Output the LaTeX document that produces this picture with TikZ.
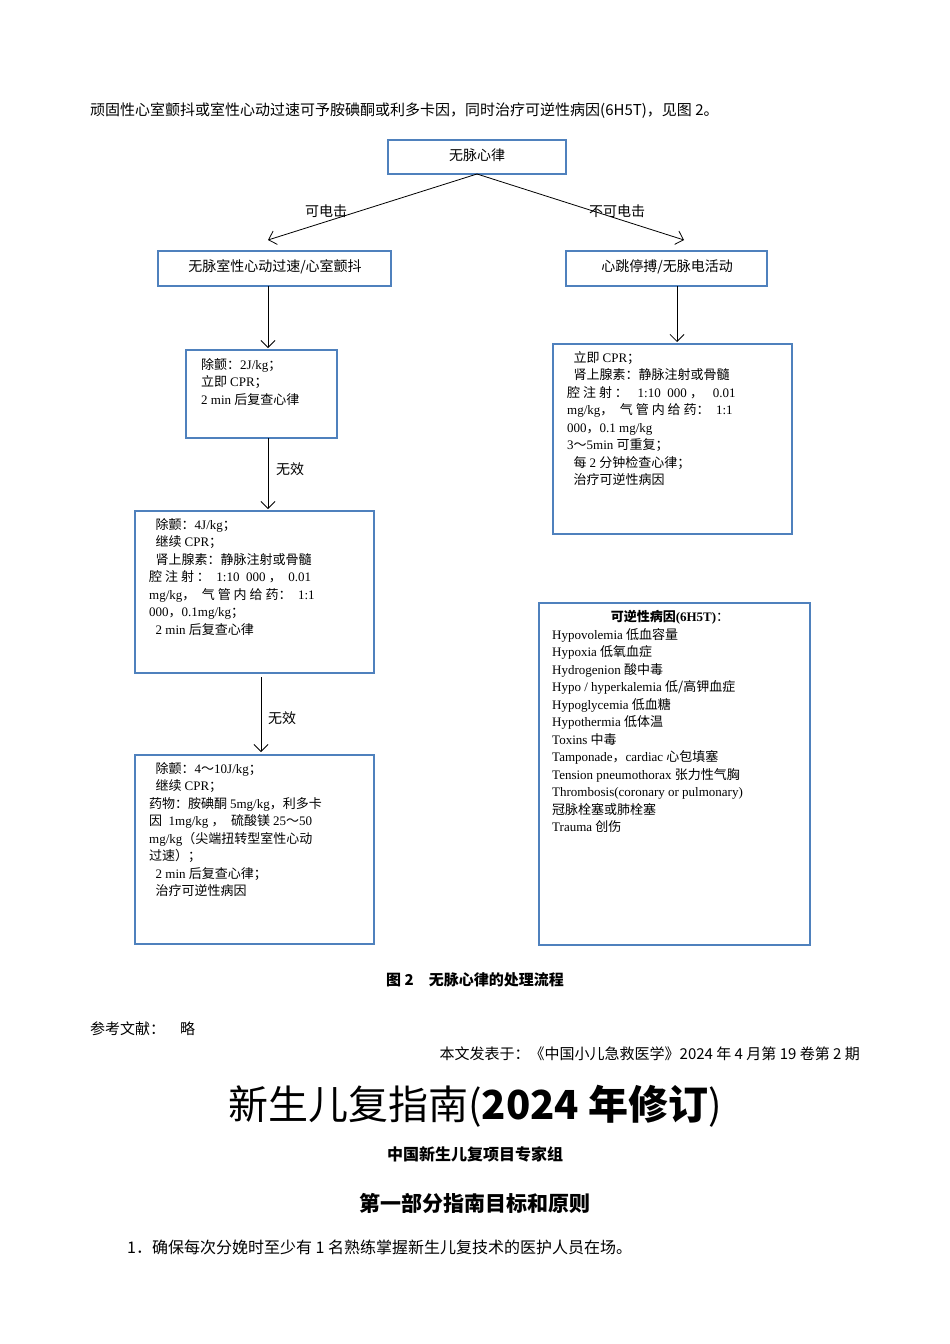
\documentclass[tikz,border=0pt]{standalone}
\usetikzlibrary{arrows.meta}
\usepackage{fontspec}
\setmainfont{Liberation Serif}
\newfontfamily\cjk{Noto Sans CJK SC}
\newcommand\zh[1]{{\cjk #1}}
\definecolor{bl}{HTML}{4F81BD}
\begin{document}
\begin{tikzpicture}[x=1pt,y=-1pt,
 bx/.style={draw=bl,line width=2.6pt},
 arr/.style={-{Straight Barb[length=7pt,width=14pt]},line width=0.8pt},
 tx/.style={font=\fontsize{13}{17.5}\selectfont,align=left,anchor=north west,inner sep=0pt},
 lab/.style={font=\cjk\fontsize{14}{16}\selectfont,inner sep=0pt}]
\useasboundingbox (0,0) rectangle (950,1344);
\node[anchor=west,inner sep=0pt,font=\cjk\fontsize{15}{18}\selectfont] (top) at (90,111) {顽固性心室颤抖或室性心动过速可予胺碘酮或利多卡因，同时治疗可逆性病因(6H5T)，见图 2。};
\draw[bx] (388,140) rectangle (566,174); \node[lab] (a) at (477,155) {无脉心律};
\coordinate (as) at (477,174);
\draw[bx] (158,251) rectangle (391,286); \node[lab] (b) at (275,267) {无脉室性心动过速/心室颤抖};
\draw[bx] (566,251) rectangle (767,286); \node[lab] (c) at (667,267) {心跳停搏/无脉电活动};
\coordinate (bt) at (268,240); \coordinate (ct) at (684,240);
\draw[arr] (as) -- (bt); \draw[arr] (as) -- (ct);
\node[lab] (l1) at (326,211) {可电击};
\node[lab] (l2) at (617,211) {不可电击};
\draw[bx] (186,350) rectangle (337,438);
\node[tx] (d) at (201,358) {\zh{除颤：}2J/kg\zh{；}\\\zh{立即 }CPR\zh{；}\\2 min \zh{后复查心律}};
\draw[arr] (268,286) -- (268,348);
\draw[arr] (268,438) -- (268,509); \node[lab] (w1) at (290,469) {无效};
\draw[bx] (135,511) rectangle (374,673);
\node[tx] (e) at (149,518) {\ \ \zh{除颤：}4J/kg\zh{；}\\\ \ \zh{继续 }CPR\zh{；}\\\ \ \zh{肾上腺素：静脉注射或骨髓}\\\zh{腔 注 射 ：}\ \ 1:10\ \ 000\ \zh{，}\ \ 0.01\\mg/kg\zh{，}\ \ \zh{气 管 内 给 药：}\ \ 1:1\\000\zh{，}0.1mg/kg\zh{；}\\\ \ 2 min \zh{后复查心律}};
\draw[arr] (261,677) -- (261,752); \node[lab] (w2) at (282,718) {无效};
\draw[bx] (135,755) rectangle (374,944);
\node[tx] (f) at (149,762) {\ \ \zh{除颤：}4\zh{～}10J/kg\zh{；}\\\ \ \zh{继续 }CPR\zh{；}\\\zh{药物：胺碘酮 }5mg/kg\zh{，利多卡}\\\zh{因}\ \ 1mg/kg\ \zh{，}\ \ \zh{硫酸镁 }25\zh{～}50\\mg/kg\zh{（尖端扭转型室性心动}\\\zh{过速）；}\\\ \ 2 min \zh{后复查心律；}\\\ \ \zh{治疗可逆性病因}};
\draw[arr] (677,286) -- (677,342);
\draw[bx] (553,344) rectangle (792,534);
\node[tx] (g) at (567,351) {\ \ \zh{立即 }CPR\zh{；}\\\ \ \zh{肾上腺素：静脉注射或骨髓}\\\zh{腔 注 射 ：}\ \ \ 1:10\ \ 000\ \zh{，}\ \ \ 0.01\\mg/kg\zh{，}\ \ \zh{气 管 内 给 药：}\ \ 1:1\\000\zh{，}0.1 mg/kg\\3\zh{～}5min \zh{可重复；}\\\ \ \zh{每 }2 \zh{分钟检查心律；}\\\ \ \zh{治疗可逆性病因}};
\draw[bx] (539,603) rectangle (810,945);
\node[tx,anchor=north] (h0) at (670,610) {\zh{\bfseries 可逆性病因}\textbf{(6H5T)}\zh{：}};
\node[tx] (h) at (552,628) {Hypovolemia \zh{低血容量}\\Hypoxia \zh{低氧血症}\\Hydrogenion \zh{酸中毒}\\Hypo / hyperkalemia \zh{低/高钾血症}\\Hypoglycemia \zh{低血糖}\\Hypothermia \zh{低体温}\\Toxins \zh{中毒}\\Tamponade\zh{，}cardiac \zh{心包填塞}\\Tension pneumothorax \zh{张力性气胸}\\Thrombosis(coronary or pulmonary)\\\zh{冠脉栓塞或肺栓塞}\\Trauma \zh{创伤}};
\node[inner sep=0pt,font=\cjk\bfseries\fontsize{15}{18}\selectfont] (cap) at (475,980) {图 2\quad 无脉心律的处理流程};
\node[anchor=west,inner sep=0pt,font=\cjk\fontsize{15}{18}\selectfont] (ref) at (90,1029) {参考文献：\quad 略};
\node[anchor=east,inner sep=0pt,font=\cjk\fontsize{15}{18}\selectfont] (pub) at (860,1054) {本文发表于：《中国小儿急救医学》2024 年 4 月第 19 卷第 2 期};
\node[inner sep=0pt,font=\cjk\fontsize{40}{44}\selectfont] (title) at (475,1106) {新生儿复指南(\textbf{2024 年修订})};
\node[inner sep=0pt,font=\cjk\bfseries\fontsize{16}{18}\selectfont] (au) at (475,1154) {中国新生儿复项目专家组};
\node[inner sep=0pt,font=\cjk\bfseries\fontsize{21}{24}\selectfont] (sec) at (475,1203) {第一部分指南目标和原则};
\node[anchor=west,inner sep=0pt,font=\cjk\fontsize{16}{18}\selectfont] (p1) at (127,1247) {1．确保每次分娩时至少有 1 名熟练掌握新生儿复技术的医护人员在场。};
\end{tikzpicture}
\end{document}
